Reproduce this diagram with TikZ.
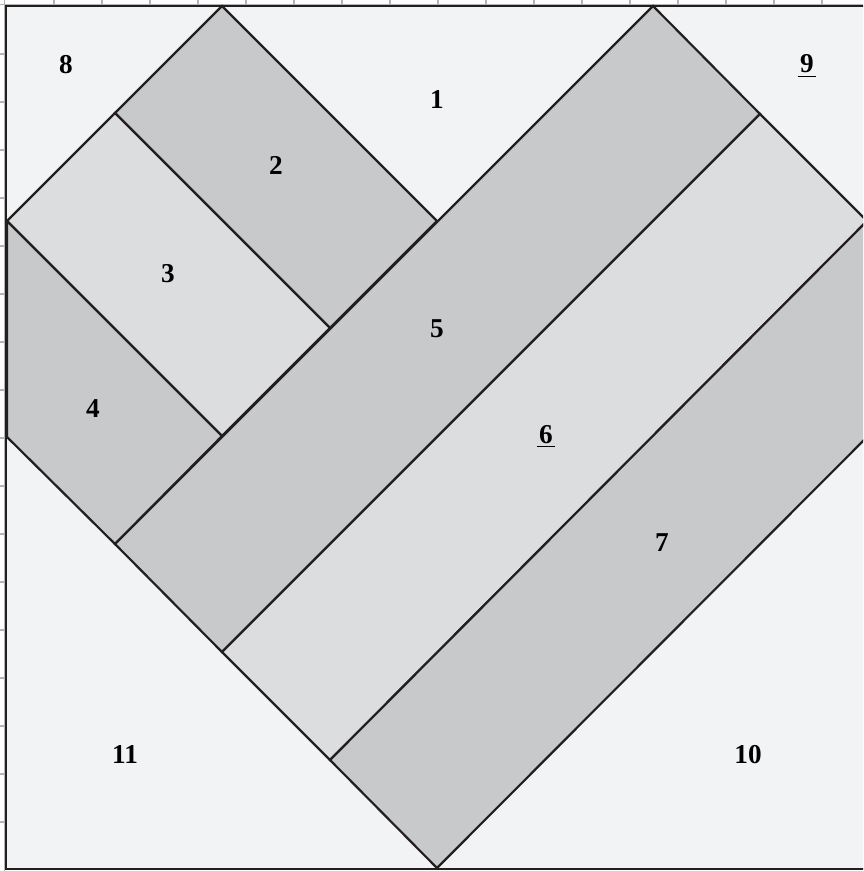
\documentclass[tikz,border=0pt]{standalone}
\usepackage{fontspec}
\setmainfont{Liberation Serif}
\usepackage{xcolor}
\definecolor{quiltbg}{HTML}{F2F3F5}
\definecolor{quiltdark}{HTML}{C8C9CB}
\definecolor{quiltlight}{HTML}{DCDDDF}
\definecolor{seamline}{HTML}{231F20}
\definecolor{rulegray}{HTML}{B4B4B4}
\newcommand{\pieceul}[1]{$\underline{\kern1.5pt\text{#1}\kern1.5pt}$}
\usepackage{amsmath}

\begin{document}
\begin{tikzpicture}[
  x=0.02cm, y=-0.02cm,
  darkpc/.style={fill=quiltdark, draw=seamline, line width=1.25pt},
  lightpc/.style={fill=quiltlight, draw=seamline, line width=1.25pt},
  rulertick/.style={draw=rulegray, line width=0.9pt},
  framebox/.style={draw=seamline, line width=1.4pt},
  num/.style={font=\bfseries\fontsize{15.5}{18}\selectfont, inner sep=0pt, anchor=base}
]
\useasboundingbox (0,0) rectangle (863,871);
\clip (0,0) rectangle (863,871);
\fill[white] (0,0) rectangle (863,871);
\fill[quiltbg] (6,6) rectangle (868,869);
\draw[rulertick, line width=0.6pt] (4.5,0) -- (4.5,871);
\draw[rulertick, line width=0.6pt] (0,4.5) -- (863,4.5);
\foreach \k in {1,...,17} {
  \draw[rulertick] (6+48*\k,0) -- (6+48*\k,5);
  \draw[rulertick] (0,6+48*\k) -- (5,6+48*\k);
}
\draw[darkpc] (115,113) -- (222,6) -- (437,221) -- (330,328) -- cycle;
\draw[lightpc] (7,221) -- (115,113) -- (330,328) -- (222,436) -- cycle;
\draw[darkpc] (7,221) -- (222,436) -- (115,544) -- (7,437) -- cycle;
\draw[darkpc] (115,544) -- (653,6) -- (760,114) -- (222,652) -- cycle;
\draw[lightpc] (222,652) -- (760,114) -- (867,221) -- (330,760) -- cycle;
\draw[darkpc] (330,760) -- (867,221) -- (867,437) -- (437,868) -- cycle;
\draw[framebox] (6,6) rectangle (868,869);
\node[num] (p1) at (437,109) {1};
\node[num] (p2) at (276,175) {2};
\node[num] (p3) at (168,282) {3};
\node[num] (p4) at (93,417) {4};
\node[num] (p5) at (437,337) {5};
\node[num] (p6) at (546,443) {\pieceul{6}};
\node[num] (p7) at (662,551) {7};
\node[num] (p8) at (66,74) {8};
\node[num] (p9) at (807,73) {\pieceul{9}};
\node[num] (p10) at (748,763) {10};
\node[num] (p11) at (125,763) {11};
\end{tikzpicture}
\end{document}
